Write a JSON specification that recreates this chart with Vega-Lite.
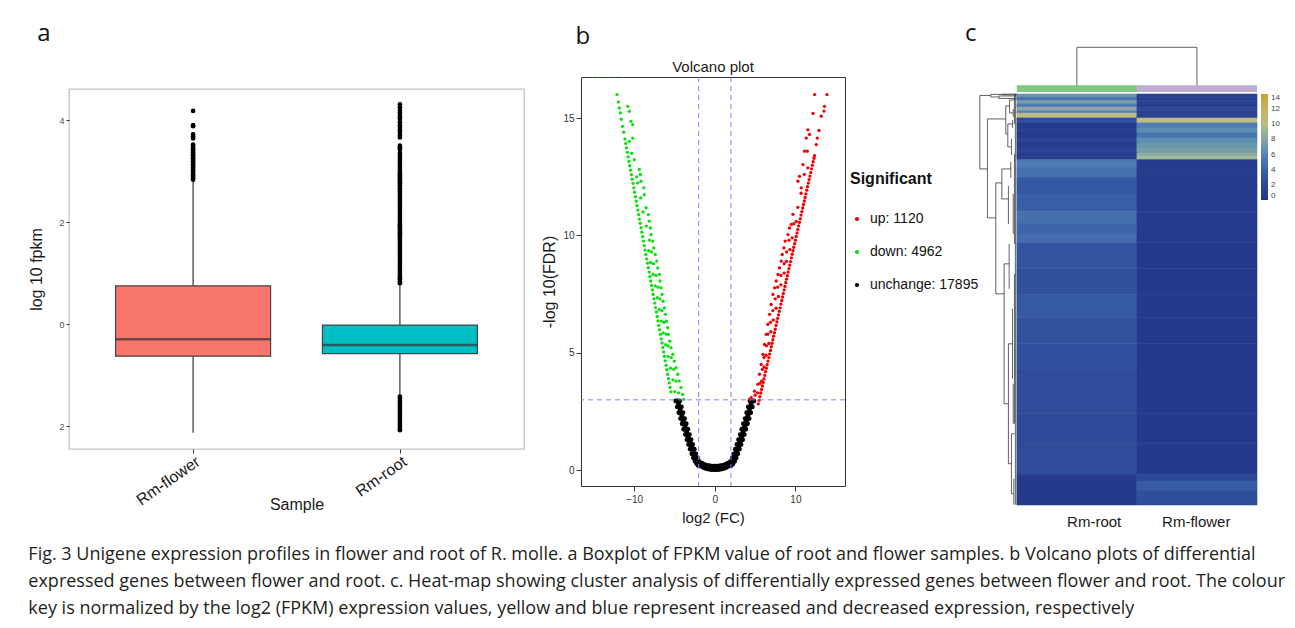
{
"$schema": "https://vega.github.io/schema/vega-lite/v6.json",
"background": "white",
"padding": {"left": 28, "top": 21, "right": 5, "bottom": 5},
"config": {
  "font": "Liberation Sans",
  "view": {"stroke": null},
  "axis": {"grid": false, "domain": false, "tickColor": "#333333", "labelColor": "#333333", "titleColor": "#1a1a1a", "titleFontWeight": "normal", "labelFont": "Liberation Sans", "titleFont": "Liberation Sans"},
  "legend": {"labelFont": "Liberation Sans", "titleFont": "Liberation Sans"},
  "title": {"font": "Open Sans", "fontWeight": "normal", "color": "#111111"}
},
"title": {
  "text": [
    "Fig. 3 Unigene expression profiles in flower and root of R. molle. a Boxplot of FPKM value of root and flower samples. b Volcano plots of differential",
    "expressed genes between flower and root. c. Heat-map showing cluster analysis of differentially expressed genes between flower and root. The colour",
    "key is normalized by the log2 (FPKM) expression values, yellow and blue represent increased and decreased expression, respectively"
  ],
  "orient": "bottom", "anchor": "start", "frame": "bounds",
  "font": "Open Sans", "fontSize": 18, "fontWeight": "normal", "color": "#231f20",
  "lineHeight": 27, "offset": 17, "baseline": "top"
},
"datasets": {
  "boxes": [
    {"s": "Rm-flower", "lo": -2.13, "q1": -0.63, "med": -0.30, "q3": 0.75, "hi": 2.80},
    {"s": "Rm-root", "lo": -1.39, "q1": -0.58, "med": -0.41, "q3": -0.02, "hi": 0.78}
  ],
  "outl": [
    {"s":"Rm-flower","v":4.18},{"s":"Rm-flower","v":3.90},{"s":"Rm-flower","v":3.88},{"s":"Rm-flower","v":3.72},{"s":"Rm-flower","v":3.68},{"s":"Rm-flower","v":3.64},
    {"s":"Rm-flower","v":3.52},{"s":"Rm-flower","v":3.49},{"s":"Rm-flower","v":3.46},{"s":"Rm-flower","v":3.43},{"s":"Rm-flower","v":3.40},{"s":"Rm-flower","v":3.37},{"s":"Rm-flower","v":3.34},{"s":"Rm-flower","v":3.31},{"s":"Rm-flower","v":3.28},{"s":"Rm-flower","v":3.25},{"s":"Rm-flower","v":3.22},{"s":"Rm-flower","v":3.19},{"s":"Rm-flower","v":3.16},{"s":"Rm-flower","v":3.13},{"s":"Rm-flower","v":3.10},{"s":"Rm-flower","v":3.07},{"s":"Rm-flower","v":3.04},{"s":"Rm-flower","v":3.01},{"s":"Rm-flower","v":2.98},{"s":"Rm-flower","v":2.95},{"s":"Rm-flower","v":2.92},{"s":"Rm-flower","v":2.89},{"s":"Rm-flower","v":2.86},{"s":"Rm-flower","v":2.83},
    {"s":"Rm-root","v":4.31},{"s":"Rm-root","v":4.25},{"s":"Rm-root","v":4.20},{"s":"Rm-root","v":4.15},{"s":"Rm-root","v":4.10},{"s":"Rm-root","v":4.05},{"s":"Rm-root","v":4.02},{"s":"Rm-root","v":3.96},{"s":"Rm-root","v":3.90},{"s":"Rm-root","v":3.85},{"s":"Rm-root","v":3.80},{"s":"Rm-root","v":3.75},{"s":"Rm-root","v":3.70},{"s":"Rm-root","v":3.66},{"s":"Rm-root","v":3.50},{"s":"Rm-root","v":3.47},{"s":"Rm-root","v":3.43},
    {"s":"Rm-root","v":3.36},{"s":"Rm-root","v":3.32},{"s":"Rm-root","v":3.28},{"s":"Rm-root","v":3.24},{"s":"Rm-root","v":3.20},{"s":"Rm-root","v":3.16},{"s":"Rm-root","v":3.12},{"s":"Rm-root","v":3.08},{"s":"Rm-root","v":3.04},{"s":"Rm-root","v":3.00},{"s":"Rm-root","v":2.96},{"s":"Rm-root","v":2.92},{"s":"Rm-root","v":2.88},{"s":"Rm-root","v":2.84},{"s":"Rm-root","v":2.80},{"s":"Rm-root","v":2.76},{"s":"Rm-root","v":2.72},{"s":"Rm-root","v":2.68},{"s":"Rm-root","v":2.64},{"s":"Rm-root","v":2.60},{"s":"Rm-root","v":2.56},{"s":"Rm-root","v":2.52},{"s":"Rm-root","v":2.48},{"s":"Rm-root","v":2.44},{"s":"Rm-root","v":2.40},{"s":"Rm-root","v":2.36},{"s":"Rm-root","v":2.32},{"s":"Rm-root","v":2.28},{"s":"Rm-root","v":2.24},{"s":"Rm-root","v":2.20},{"s":"Rm-root","v":2.16},{"s":"Rm-root","v":2.12},{"s":"Rm-root","v":2.08},{"s":"Rm-root","v":2.04},{"s":"Rm-root","v":2.00},{"s":"Rm-root","v":1.96},{"s":"Rm-root","v":1.92},{"s":"Rm-root","v":1.88},{"s":"Rm-root","v":1.84},{"s":"Rm-root","v":1.80},{"s":"Rm-root","v":1.76},{"s":"Rm-root","v":1.72},{"s":"Rm-root","v":1.68},{"s":"Rm-root","v":1.64},{"s":"Rm-root","v":1.60},{"s":"Rm-root","v":1.56},{"s":"Rm-root","v":1.52},{"s":"Rm-root","v":1.48},{"s":"Rm-root","v":1.44},{"s":"Rm-root","v":1.40},{"s":"Rm-root","v":1.36},{"s":"Rm-root","v":1.32},{"s":"Rm-root","v":1.28},{"s":"Rm-root","v":1.24},{"s":"Rm-root","v":1.20},{"s":"Rm-root","v":1.16},{"s":"Rm-root","v":1.12},{"s":"Rm-root","v":1.08},{"s":"Rm-root","v":1.04},{"s":"Rm-root","v":1.00},{"s":"Rm-root","v":0.96},{"s":"Rm-root","v":0.92},{"s":"Rm-root","v":0.88},{"s":"Rm-root","v":0.84},{"s":"Rm-root","v":0.80},
    {"s":"Rm-root","v":-1.42},{"s":"Rm-root","v":-1.46},{"s":"Rm-root","v":-1.50},{"s":"Rm-root","v":-1.54},{"s":"Rm-root","v":-1.58},{"s":"Rm-root","v":-1.62},{"s":"Rm-root","v":-1.66},{"s":"Rm-root","v":-1.70},{"s":"Rm-root","v":-1.74},{"s":"Rm-root","v":-1.78},{"s":"Rm-root","v":-1.82},{"s":"Rm-root","v":-1.86},{"s":"Rm-root","v":-1.90},{"s":"Rm-root","v":-1.94},{"s":"Rm-root","v":-1.98},{"s":"Rm-root","v":-2.02},{"s":"Rm-root","v":-2.06},{"s":"Rm-root","v":-2.08}
  ],
  "volc": [
    {"x":-4.6,"y":2.95,"g":"n"},{"x":-4.5,"y":2.82,"g":"n"},{"x":-4.4,"y":2.7,"g":"n"},{"x":-4.3,"y":2.57,"g":"n"},{"x":-4.2,"y":2.45,"g":"n"},{"x":-4.1,"y":2.32,"g":"n"},{"x":-4.0,"y":2.2,"g":"n"},{"x":-3.9,"y":2.09,"g":"n"},{"x":-3.8,"y":1.98,"g":"n"},{"x":-3.7,"y":1.86,"g":"n"},{"x":-3.6,"y":1.75,"g":"n"},{"x":-3.5,"y":1.63,"g":"n"},{"x":-3.4,"y":1.52,"g":"n"},{"x":-3.3,"y":1.41,"g":"n"},{"x":-3.2,"y":1.3,"g":"n"},{"x":-3.1,"y":1.2,"g":"n"},{"x":-3.0,"y":1.1,"g":"n"},{"x":-2.9,"y":1.0,"g":"n"},{"x":-2.8,"y":0.9,"g":"n"},{"x":-2.7,"y":0.8,"g":"n"},{"x":-2.6,"y":0.7,"g":"n"},{"x":-2.5,"y":0.61,"g":"n"},{"x":-2.4,"y":0.52,"g":"n"},{"x":-2.3,"y":0.45,"g":"n"},{"x":-2.2,"y":0.38,"g":"n"},{"x":-2.1,"y":0.33,"g":"n"},{"x":-2.0,"y":0.28,"g":"n"},{"x":-1.9,"y":0.24,"g":"n"},{"x":-1.8,"y":0.2,"g":"n"},
    {"x":-4.85,"y":2.95,"g":"n"},{"x":-4.65,"y":2.7,"g":"n"},{"x":-4.45,"y":2.45,"g":"n"},{"x":-4.25,"y":2.2,"g":"n"},{"x":-4.05,"y":1.98,"g":"n"},{"x":-3.85,"y":1.75,"g":"n"},{"x":-3.65,"y":1.52,"g":"n"},{"x":-3.45,"y":1.3,"g":"n"},{"x":-3.25,"y":1.1,"g":"n"},{"x":-3.05,"y":0.9,"g":"n"},{"x":-2.85,"y":0.7,"g":"n"},{"x":-2.65,"y":0.52,"g":"n"},{"x":-2.45,"y":0.38,"g":"n"},{"x":-2.25,"y":0.28,"g":"n"},{"x":-2.05,"y":0.2,"g":"n"},
    {"x":-4.35,"y":2.95,"g":"n"},{"x":-4.15,"y":2.7,"g":"n"},{"x":-3.95,"y":2.45,"g":"n"},{"x":-3.75,"y":2.2,"g":"n"},{"x":-3.55,"y":1.98,"g":"n"},{"x":-3.35,"y":1.75,"g":"n"},{"x":-3.15,"y":1.52,"g":"n"},{"x":-2.95,"y":1.3,"g":"n"},{"x":-2.75,"y":1.1,"g":"n"},{"x":-2.55,"y":0.9,"g":"n"},{"x":-2.35,"y":0.7,"g":"n"},{"x":-2.15,"y":0.52,"g":"n"},{"x":-1.95,"y":0.38,"g":"n"},{"x":-1.75,"y":0.28,"g":"n"},{"x":-1.55,"y":0.2,"g":"n"},
    {"x":4.6,"y":2.95,"g":"n"},{"x":4.5,"y":2.82,"g":"n"},{"x":4.4,"y":2.7,"g":"n"},{"x":4.3,"y":2.57,"g":"n"},{"x":4.2,"y":2.45,"g":"n"},{"x":4.1,"y":2.32,"g":"n"},{"x":4.0,"y":2.2,"g":"n"},{"x":3.9,"y":2.09,"g":"n"},{"x":3.8,"y":1.98,"g":"n"},{"x":3.7,"y":1.86,"g":"n"},{"x":3.6,"y":1.75,"g":"n"},{"x":3.5,"y":1.63,"g":"n"},{"x":3.4,"y":1.52,"g":"n"},{"x":3.3,"y":1.41,"g":"n"},{"x":3.2,"y":1.3,"g":"n"},{"x":3.1,"y":1.2,"g":"n"},{"x":3.0,"y":1.1,"g":"n"},{"x":2.9,"y":1.0,"g":"n"},{"x":2.8,"y":0.9,"g":"n"},{"x":2.7,"y":0.8,"g":"n"},{"x":2.6,"y":0.7,"g":"n"},{"x":2.5,"y":0.61,"g":"n"},{"x":2.4,"y":0.52,"g":"n"},{"x":2.3,"y":0.45,"g":"n"},{"x":2.2,"y":0.38,"g":"n"},{"x":2.1,"y":0.33,"g":"n"},{"x":2.0,"y":0.28,"g":"n"},{"x":1.9,"y":0.24,"g":"n"},{"x":1.8,"y":0.2,"g":"n"},
    {"x":4.85,"y":2.95,"g":"n"},{"x":4.65,"y":2.7,"g":"n"},{"x":4.45,"y":2.45,"g":"n"},{"x":4.25,"y":2.2,"g":"n"},{"x":4.05,"y":1.98,"g":"n"},{"x":3.85,"y":1.75,"g":"n"},{"x":3.65,"y":1.52,"g":"n"},{"x":3.45,"y":1.3,"g":"n"},{"x":3.25,"y":1.1,"g":"n"},{"x":3.05,"y":0.9,"g":"n"},{"x":2.85,"y":0.7,"g":"n"},{"x":2.65,"y":0.52,"g":"n"},{"x":2.45,"y":0.38,"g":"n"},{"x":2.25,"y":0.28,"g":"n"},{"x":2.05,"y":0.2,"g":"n"},
    {"x":4.35,"y":2.95,"g":"n"},{"x":4.15,"y":2.7,"g":"n"},{"x":3.95,"y":2.45,"g":"n"},{"x":3.75,"y":2.2,"g":"n"},{"x":3.55,"y":1.98,"g":"n"},{"x":3.35,"y":1.75,"g":"n"},{"x":3.15,"y":1.52,"g":"n"},{"x":2.95,"y":1.3,"g":"n"},{"x":2.75,"y":1.1,"g":"n"},{"x":2.55,"y":0.9,"g":"n"},{"x":2.35,"y":0.7,"g":"n"},{"x":2.15,"y":0.52,"g":"n"},{"x":1.95,"y":0.38,"g":"n"},{"x":1.75,"y":0.28,"g":"n"},{"x":1.55,"y":0.2,"g":"n"},
    {"x":-1.6,"y":0.16,"g":"n"},{"x":-1.4,"y":0.12,"g":"n"},{"x":-1.2,"y":0.09,"g":"n"},{"x":-1.0,"y":0.07,"g":"n"},{"x":-0.8,"y":0.05,"g":"n"},{"x":-0.6,"y":0.04,"g":"n"},{"x":-0.4,"y":0.03,"g":"n"},{"x":-0.2,"y":0.03,"g":"n"},{"x":0.0,"y":0.03,"g":"n"},{"x":0.2,"y":0.03,"g":"n"},{"x":0.4,"y":0.03,"g":"n"},{"x":0.6,"y":0.04,"g":"n"},{"x":0.8,"y":0.05,"g":"n"},{"x":1.0,"y":0.07,"g":"n"},{"x":1.2,"y":0.09,"g":"n"},{"x":1.4,"y":0.12,"g":"n"},{"x":1.6,"y":0.16,"g":"n"},
    {"x":-1.6,"y":0.3,"g":"n"},{"x":-1.4,"y":0.26,"g":"n"},{"x":-1.2,"y":0.23,"g":"n"},{"x":-1.0,"y":0.21,"g":"n"},{"x":-0.8,"y":0.19,"g":"n"},{"x":-0.6,"y":0.18,"g":"n"},{"x":-0.4,"y":0.17,"g":"n"},{"x":-0.2,"y":0.17,"g":"n"},{"x":0.0,"y":0.17,"g":"n"},{"x":0.2,"y":0.17,"g":"n"},{"x":0.4,"y":0.17,"g":"n"},{"x":0.6,"y":0.18,"g":"n"},{"x":0.8,"y":0.19,"g":"n"},{"x":1.0,"y":0.21,"g":"n"},{"x":1.2,"y":0.23,"g":"n"},{"x":1.4,"y":0.26,"g":"n"},{"x":1.6,"y":0.3,"g":"n"},
    {"x":-5.45,"y":3.34,"g":"d"},{"x":-5.55,"y":3.53,"g":"d"},{"x":-5.65,"y":3.72,"g":"d"},{"x":-5.75,"y":3.9,"g":"d"},{"x":-5.85,"y":4.09,"g":"d"},{"x":-5.95,"y":4.28,"g":"d"},{"x":-6.05,"y":4.47,"g":"d"},{"x":-6.15,"y":4.66,"g":"d"},{"x":-6.25,"y":4.85,"g":"d"},{"x":-6.35,"y":5.04,"g":"d"},{"x":-6.45,"y":5.23,"g":"d"},{"x":-6.55,"y":5.42,"g":"d"},{"x":-6.65,"y":5.6,"g":"d"},{"x":-6.75,"y":5.79,"g":"d"},{"x":-6.85,"y":5.98,"g":"d"},{"x":-6.95,"y":6.17,"g":"d"},{"x":-7.05,"y":6.36,"g":"d"},{"x":-7.15,"y":6.55,"g":"d"},{"x":-7.25,"y":6.74,"g":"d"},{"x":-7.35,"y":6.93,"g":"d"},{"x":-7.45,"y":7.12,"g":"d"},{"x":-7.55,"y":7.3,"g":"d"},{"x":-7.65,"y":7.49,"g":"d"},{"x":-7.75,"y":7.68,"g":"d"},{"x":-7.85,"y":7.87,"g":"d"},{"x":-7.95,"y":8.06,"g":"d"},{"x":-8.05,"y":8.25,"g":"d"},{"x":-8.15,"y":8.44,"g":"d"},{"x":-8.25,"y":8.63,"g":"d"},{"x":-8.35,"y":8.82,"g":"d"},{"x":-8.45,"y":9.0,"g":"d"},{"x":-8.55,"y":9.19,"g":"d"},{"x":-8.65,"y":9.38,"g":"d"},{"x":-8.75,"y":9.57,"g":"d"},{"x":-8.85,"y":9.76,"g":"d"},{"x":-8.95,"y":9.95,"g":"d"},{"x":-9.05,"y":10.14,"g":"d"},{"x":-9.15,"y":10.33,"g":"d"},{"x":-9.25,"y":10.52,"g":"d"},{"x":-9.35,"y":10.7,"g":"d"},{"x":-9.45,"y":10.89,"g":"d"},{"x":-9.55,"y":11.08,"g":"d"},{"x":-9.65,"y":11.27,"g":"d"},{"x":-9.75,"y":11.46,"g":"d"},{"x":-9.85,"y":11.65,"g":"d"},{"x":-9.95,"y":11.84,"g":"d"},{"x":-10.05,"y":12.03,"g":"d"},{"x":-10.15,"y":12.22,"g":"d"},{"x":-10.25,"y":12.4,"g":"d"},{"x":-10.35,"y":12.59,"g":"d"},{"x":-10.45,"y":12.78,"g":"d"},{"x":-10.55,"y":12.97,"g":"d"},{"x":-10.65,"y":13.16,"g":"d"},{"x":-10.75,"y":13.35,"g":"d"},{"x":-10.85,"y":13.54,"g":"d"},{"x":-10.95,"y":13.73,"g":"d"},{"x":-11.05,"y":13.92,"g":"d"},{"x":-11.15,"y":14.11,"g":"d"},{"x":-11.3,"y":14.4,"g":"d"},{"x":-11.45,"y":14.65,"g":"d"},{"x":-11.6,"y":14.95,"g":"d"},
    {"x":-12.14,"y":16.0,"g":"d"},{"x":-11.97,"y":15.69,"g":"d"},{"x":-11.85,"y":15.43,"g":"d"},{"x":-11.72,"y":15.22,"g":"d"},{"x":-10.81,"y":15.5,"g":"d"},{"x":-10.6,"y":15.29,"g":"d"},{"x":-10.4,"y":14.86,"g":"d"},{"x":-10.19,"y":14.72,"g":"d"},{"x":-10.6,"y":14.01,"g":"d"},{"x":-10.19,"y":14.15,"g":"d"},{"x":-9.99,"y":13.23,"g":"d"},{"x":-9.37,"y":12.81,"g":"d"},{"x":-9.24,"y":12.6,"g":"d"},{"x":-9.16,"y":12.31,"g":"d"},{"x":-9.57,"y":12.24,"g":"d"},{"x":-8.82,"y":12.03,"g":"d"},{"x":-8.75,"y":11.74,"g":"d"},{"x":-8.53,"y":11.18,"g":"d"},{"x":-8.24,"y":10.89,"g":"d"},{"x":-8.12,"y":10.61,"g":"d"},{"x":-8.0,"y":10.32,"g":"d"},{"x":-7.91,"y":10.04,"g":"d"},{"x":-7.7,"y":9.76,"g":"d"},{"x":-7.58,"y":9.47,"g":"d"},{"x":-7.38,"y":9.19,"g":"d"},{"x":-7.21,"y":8.91,"g":"d"},{"x":-7.08,"y":8.62,"g":"d"},{"x":-6.88,"y":8.34,"g":"d"},{"x":-6.8,"y":8.06,"g":"d"},{"x":-6.67,"y":7.77,"g":"d"},{"x":-6.55,"y":7.49,"g":"d"},{"x":-6.42,"y":7.2,"g":"d"},{"x":-6.26,"y":6.92,"g":"d"},{"x":-6.13,"y":6.64,"g":"d"},{"x":-6.01,"y":6.35,"g":"d"},{"x":-5.84,"y":6.07,"g":"d"},{"x":-5.76,"y":5.79,"g":"d"},{"x":-5.59,"y":5.5,"g":"d"},{"x":-5.43,"y":5.22,"g":"d"},{"x":-5.22,"y":4.94,"g":"d"},{"x":-5.02,"y":4.65,"g":"d"},{"x":-4.81,"y":4.37,"g":"d"},{"x":-4.6,"y":4.09,"g":"d"},{"x":-4.4,"y":3.8,"g":"d"},{"x":-4.19,"y":3.52,"g":"d"},{"x":-3.98,"y":3.23,"g":"d"},{"x":-3.85,"y":3.02,"g":"d"},
    {"x":-4.5,"y":3.3,"g":"d"},{"x":-4.95,"y":3.35,"g":"d"},{"x":-4.8,"y":3.8,"g":"d"},{"x":-5.2,"y":3.85,"g":"d"},{"x":-5.1,"y":4.3,"g":"d"},{"x":-5.5,"y":4.35,"g":"d"},{"x":-5.4,"y":4.8,"g":"d"},{"x":-5.8,"y":4.85,"g":"d"},{"x":-5.8,"y":5.3,"g":"d"},{"x":-6.1,"y":5.35,"g":"d"},{"x":-6.05,"y":5.8,"g":"d"},{"x":-6.4,"y":5.85,"g":"d"},{"x":-6.3,"y":6.3,"g":"d"},{"x":-6.65,"y":6.35,"g":"d"},{"x":-6.55,"y":6.8,"g":"d"},{"x":-6.9,"y":6.85,"g":"d"},{"x":-6.8,"y":7.3,"g":"d"},{"x":-7.15,"y":7.35,"g":"d"},{"x":-7.05,"y":7.8,"g":"d"},{"x":-7.4,"y":7.85,"g":"d"},{"x":-7.3,"y":8.3,"g":"d"},{"x":-7.65,"y":8.35,"g":"d"},{"x":-7.6,"y":8.8,"g":"d"},{"x":-7.95,"y":8.85,"g":"d"},{"x":-7.85,"y":9.3,"g":"d"},{"x":-8.2,"y":9.35,"g":"d"},{"x":-8.1,"y":9.8,"g":"d"},{"x":-8.5,"y":10.4,"g":"d"},{"x":-8.9,"y":11.0,"g":"d"},{"x":-9.2,"y":11.6,"g":"d"},{"x":-9.7,"y":12.5,"g":"d"},{"x":-10.3,"y":13.5,"g":"d"},
    {"x":-15.1,"y":16.8,"g":"d"},{"x":-14.5,"y":16.8,"g":"d"},{"x":-13.9,"y":16.8,"g":"d"},{"x":-13.0,"y":16.8,"g":"d"},{"x":-12.4,"y":16.8,"g":"d"},{"x":-11.3,"y":16.8,"g":"d"},
    {"x":5.4,"y":2.83,"g":"u"},{"x":5.5,"y":2.98,"g":"u"},{"x":5.6,"y":3.13,"g":"u"},{"x":5.7,"y":3.29,"g":"u"},{"x":5.8,"y":3.44,"g":"u"},{"x":5.9,"y":3.59,"g":"u"},{"x":6.0,"y":3.74,"g":"u"},{"x":6.1,"y":3.89,"g":"u"},{"x":6.2,"y":4.04,"g":"u"},{"x":6.3,"y":4.2,"g":"u"},{"x":6.4,"y":4.35,"g":"u"},{"x":6.5,"y":4.5,"g":"u"},{"x":6.6,"y":4.65,"g":"u"},{"x":6.7,"y":4.8,"g":"u"},{"x":6.8,"y":4.95,"g":"u"},{"x":6.9,"y":5.1,"g":"u"},{"x":7.0,"y":5.26,"g":"u"},{"x":7.1,"y":5.41,"g":"u"},{"x":7.2,"y":5.56,"g":"u"},{"x":7.3,"y":5.71,"g":"u"},{"x":7.4,"y":5.86,"g":"u"},{"x":7.5,"y":6.01,"g":"u"},{"x":7.6,"y":6.17,"g":"u"},{"x":7.7,"y":6.32,"g":"u"},{"x":7.8,"y":6.47,"g":"u"},{"x":7.9,"y":6.62,"g":"u"},{"x":8.0,"y":6.77,"g":"u"},{"x":8.1,"y":6.92,"g":"u"},{"x":8.2,"y":7.08,"g":"u"},{"x":8.3,"y":7.23,"g":"u"},{"x":8.4,"y":7.38,"g":"u"},{"x":8.5,"y":7.53,"g":"u"},{"x":8.6,"y":7.68,"g":"u"},{"x":8.7,"y":7.83,"g":"u"},{"x":8.8,"y":7.99,"g":"u"},{"x":8.9,"y":8.14,"g":"u"},{"x":9.0,"y":8.29,"g":"u"},{"x":9.1,"y":8.44,"g":"u"},{"x":9.2,"y":8.59,"g":"u"},{"x":9.3,"y":8.74,"g":"u"},{"x":9.4,"y":8.89,"g":"u"},{"x":9.5,"y":9.05,"g":"u"},{"x":9.6,"y":9.2,"g":"u"},{"x":9.7,"y":9.35,"g":"u"},{"x":9.8,"y":9.5,"g":"u"},{"x":9.9,"y":9.65,"g":"u"},{"x":10.0,"y":9.8,"g":"u"},{"x":10.1,"y":9.96,"g":"u"},{"x":10.2,"y":10.11,"g":"u"},{"x":10.3,"y":10.26,"g":"u"},{"x":10.4,"y":10.41,"g":"u"},{"x":10.5,"y":10.56,"g":"u"},{"x":10.6,"y":10.71,"g":"u"},{"x":10.7,"y":10.87,"g":"u"},{"x":10.8,"y":11.02,"g":"u"},{"x":10.9,"y":11.17,"g":"u"},{"x":11.0,"y":11.32,"g":"u"},{"x":11.1,"y":11.47,"g":"u"},{"x":11.2,"y":11.62,"g":"u"},{"x":11.3,"y":11.77,"g":"u"},{"x":11.4,"y":11.93,"g":"u"},{"x":11.5,"y":12.08,"g":"u"},{"x":11.6,"y":12.23,"g":"u"},{"x":11.7,"y":12.38,"g":"u"},{"x":11.8,"y":12.53,"g":"u"},{"x":11.9,"y":12.68,"g":"u"},{"x":12.0,"y":12.84,"g":"u"},{"x":12.1,"y":12.99,"g":"u"},{"x":12.2,"y":13.14,"g":"u"},{"x":12.3,"y":13.29,"g":"u"},{"x":12.37,"y":13.4,"g":"u"},
    {"x":12.17,"y":15.2,"g":"u"},{"x":12.38,"y":16.0,"g":"u"},{"x":13.2,"y":15.08,"g":"u"},{"x":13.61,"y":15.5,"g":"u"},{"x":13.91,"y":16.0,"g":"u"},{"x":13.54,"y":15.3,"g":"u"},{"x":12.92,"y":14.47,"g":"u"},{"x":12.71,"y":14.15,"g":"u"},{"x":12.58,"y":13.87,"g":"u"},{"x":11.55,"y":14.5,"g":"u"},{"x":11.34,"y":14.15,"g":"u"},{"x":11.75,"y":14.3,"g":"u"},{"x":11.47,"y":13.59,"g":"u"},{"x":11.13,"y":13.59,"g":"u"},{"x":10.93,"y":13.02,"g":"u"},{"x":11.55,"y":12.88,"g":"u"},{"x":10.51,"y":12.52,"g":"u"},{"x":10.31,"y":12.31,"g":"u"},{"x":10.72,"y":12.03,"g":"u"},{"x":9.69,"y":10.9,"g":"u"},{"x":9.48,"y":10.47,"g":"u"},{"x":9.27,"y":10.32,"g":"u"},{"x":9.07,"y":10.04,"g":"u"},{"x":8.73,"y":9.76,"g":"u"},{"x":8.57,"y":9.47,"g":"u"},{"x":8.36,"y":9.19,"g":"u"},{"x":8.24,"y":8.91,"g":"u"},{"x":8.02,"y":8.62,"g":"u"},{"x":7.83,"y":8.34,"g":"u"},{"x":7.61,"y":8.06,"g":"u"},{"x":7.41,"y":7.77,"g":"u"},{"x":7.2,"y":7.49,"g":"u"},{"x":6.99,"y":7.06,"g":"u"},{"x":6.79,"y":6.64,"g":"u"},{"x":6.58,"y":6.21,"g":"u"},{"x":6.37,"y":5.79,"g":"u"},{"x":6.16,"y":5.36,"g":"u"},{"x":5.96,"y":4.94,"g":"u"},{"x":5.75,"y":4.51,"g":"u"},{"x":5.54,"y":4.09,"g":"u"},{"x":5.34,"y":3.66,"g":"u"},{"x":4.92,"y":3.37,"g":"u"},{"x":4.51,"y":3.09,"g":"u"},{"x":4.3,"y":3.02,"g":"u"},
    {"x":5.0,"y":3.2,"g":"u"},{"x":5.3,"y":3.3,"g":"u"},{"x":5.6,"y":3.7,"g":"u"},{"x":5.8,"y":3.8,"g":"u"},{"x":5.9,"y":4.3,"g":"u"},{"x":6.1,"y":4.4,"g":"u"},{"x":6.1,"y":4.8,"g":"u"},{"x":6.35,"y":4.9,"g":"u"},{"x":6.4,"y":5.3,"g":"u"},{"x":6.7,"y":5.4,"g":"u"},{"x":6.6,"y":5.8,"g":"u"},{"x":6.95,"y":5.9,"g":"u"},{"x":6.9,"y":6.3,"g":"u"},{"x":7.25,"y":6.4,"g":"u"},{"x":7.2,"y":6.8,"g":"u"},{"x":7.6,"y":6.9,"g":"u"},{"x":7.5,"y":7.3,"g":"u"},{"x":7.9,"y":7.4,"g":"u"},{"x":7.8,"y":7.8,"g":"u"},{"x":8.2,"y":7.9,"g":"u"},{"x":8.2,"y":8.3,"g":"u"},{"x":8.6,"y":8.4,"g":"u"},{"x":8.6,"y":8.8,"g":"u"},{"x":8.9,"y":8.9,"g":"u"},{"x":8.9,"y":9.3,"g":"u"},{"x":9.3,"y":9.4,"g":"u"},{"x":9.2,"y":9.8,"g":"u"},{"x":9.6,"y":9.9,"g":"u"},{"x":9.8,"y":10.5,"g":"u"},{"x":10.1,"y":10.6,"g":"u"},{"x":10.3,"y":11.2,"g":"u"},{"x":10.7,"y":11.8,"g":"u"},{"x":11.1,"y":12.6,"g":"u"},
    {"x":14.4,"y":16.8,"g":"u"},{"x":14.7,"y":16.8,"g":"u"}
  ],
  "heat": [
    {"x0":0,"x1":1,"y0":0,"y1":3.3,"v":7},{"x0":1,"x1":2,"y0":0,"y1":3.3,"v":1.5},
    {"x0":0,"x1":1,"y0":3.3,"y1":6.7,"v":5},{"x0":1,"x1":2,"y0":3.3,"y1":6.7,"v":0.8},
    {"x0":0,"x1":1,"y0":6.7,"y1":10,"v":7.5},{"x0":1,"x1":2,"y0":6.7,"y1":10,"v":1.5},
    {"x0":0,"x1":1,"y0":10,"y1":13.3,"v":5.5},{"x0":1,"x1":2,"y0":10,"y1":13.3,"v":0.8},
    {"x0":0,"x1":1,"y0":13.3,"y1":16.7,"v":8},{"x0":1,"x1":2,"y0":13.3,"y1":16.7,"v":2},
    {"x0":0,"x1":1,"y0":16.7,"y1":19.3,"v":6},{"x0":1,"x1":2,"y0":16.7,"y1":19.3,"v":1},
    {"x0":0,"x1":1,"y0":19.3,"y1":24,"v":10},{"x0":1,"x1":2,"y0":19.3,"y1":24,"v":1},
    {"x0":0,"x1":1,"y0":24,"y1":26,"v":2},{"x0":1,"x1":2,"y0":24,"y1":26,"v":10.5},
    {"x0":0,"x1":1,"y0":26,"y1":29,"v":3},{"x0":1,"x1":2,"y0":26,"y1":29,"v":10},
    {"x0":0,"x1":1,"y0":29,"y1":34,"v":0.5},{"x0":1,"x1":2,"y0":29,"y1":34,"v":5.5},
    {"x0":0,"x1":1,"y0":34,"y1":39,"v":1},{"x0":1,"x1":2,"y0":34,"y1":39,"v":6.5},
    {"x0":0,"x1":1,"y0":39,"y1":44,"v":0.5},{"x0":1,"x1":2,"y0":39,"y1":44,"v":5},
    {"x0":0,"x1":1,"y0":44,"y1":49,"v":1.5},{"x0":1,"x1":2,"y0":44,"y1":49,"v":6.5},
    {"x0":0,"x1":1,"y0":49,"y1":54,"v":0.5},{"x0":1,"x1":2,"y0":49,"y1":54,"v":7},
    {"x0":0,"x1":1,"y0":54,"y1":59,"v":1.5},{"x0":1,"x1":2,"y0":54,"y1":59,"v":7.5},
    {"x0":0,"x1":1,"y0":59,"y1":62.3,"v":0.8},{"x0":1,"x1":2,"y0":59,"y1":62.3,"v":8.5},
    {"x0":0,"x1":1,"y0":62.3,"y1":65.7,"v":0.5},{"x0":1,"x1":2,"y0":62.3,"y1":65.7,"v":9.5},
    {"x0":0,"x1":1,"y0":65.7,"y1":74,"v":5.5},{"x0":1,"x1":2,"y0":65.7,"y1":74,"v":0.5},
    {"x0":0,"x1":1,"y0":74,"y1":84,"v":4.8},{"x0":1,"x1":2,"y0":74,"y1":84,"v":0.8},
    {"x0":0,"x1":1,"y0":84,"y1":100,"v":3.3},{"x0":1,"x1":2,"y0":84,"y1":100,"v":0.5},
    {"x0":0,"x1":1,"y0":100,"y1":117.3,"v":3.8},{"x0":1,"x1":2,"y0":100,"y1":117.3,"v":0.5},
    {"x0":0,"x1":1,"y0":117.3,"y1":130,"v":4.8},{"x0":1,"x1":2,"y0":117.3,"y1":130,"v":0.5},
    {"x0":0,"x1":1,"y0":130,"y1":140,"v":4.2},{"x0":1,"x1":2,"y0":130,"y1":140,"v":0.6},
    {"x0":0,"x1":1,"y0":140,"y1":149,"v":4.6},{"x0":1,"x1":2,"y0":140,"y1":149,"v":0.5},
    {"x0":0,"x1":1,"y0":149,"y1":175,"v":3.0},{"x0":1,"x1":2,"y0":149,"y1":175,"v":0.4},
    {"x0":0,"x1":1,"y0":175,"y1":200.7,"v":2.7},{"x0":1,"x1":2,"y0":175,"y1":200.7,"v":0.4},
    {"x0":0,"x1":1,"y0":200.7,"y1":224,"v":3.4},{"x0":1,"x1":2,"y0":200.7,"y1":224,"v":0.4},
    {"x0":0,"x1":1,"y0":224,"y1":250,"v":2.8},{"x0":1,"x1":2,"y0":224,"y1":250,"v":0.4},
    {"x0":0,"x1":1,"y0":250,"y1":277.3,"v":2.6},{"x0":1,"x1":2,"y0":250,"y1":277.3,"v":0.4},
    {"x0":0,"x1":1,"y0":277.3,"y1":320,"v":2.3},{"x0":1,"x1":2,"y0":277.3,"y1":320,"v":0.4},
    {"x0":0,"x1":1,"y0":320,"y1":350,"v":2.1},{"x0":1,"x1":2,"y0":320,"y1":350,"v":0.4},
    {"x0":0,"x1":1,"y0":350,"y1":380.7,"v":2.3},{"x0":1,"x1":2,"y0":350,"y1":380.7,"v":0.4},
    {"x0":0,"x1":1,"y0":380.7,"y1":387.3,"v":0.3},{"x0":1,"x1":2,"y0":380.7,"y1":387.3,"v":2},
    {"x0":0,"x1":1,"y0":387.3,"y1":397.3,"v":0.3},{"x0":1,"x1":2,"y0":387.3,"y1":397.3,"v":3.5},
    {"x0":0,"x1":1,"y0":397.3,"y1":411.3,"v":0.4},{"x0":1,"x1":2,"y0":397.3,"y1":411.3,"v":2.5}
  ],
  "annot": [
    {"x0":0,"x1":1,"y0":-8.7,"y1":-2,"smp":"Rm-root"},
    {"x0":1,"x1":2,"y0":-8.7,"y1":-2,"smp":"Rm-flower"}
  ],
  "dendro": [
    {"xa":0.5,"xb":1.5,"ya":-46.7,"yb":-46.7},{"xa":0.5,"xb":0.5,"ya":-46.7,"yb":-8.7},{"xa":1.5,"xb":1.5,"ya":-46.7,"yb":-8.7},
    {"xa":-0.308,"xb":-0.308,"ya":1.5,"yb":75},{"xa":-0.308,"xb":-0.217,"ya":1.5,"yb":1.5},{"xa":-0.308,"xb":-0.245,"ya":75,"yb":75},
    {"xa":-0.217,"xb":-0.217,"ya":0.4,"yb":3},{"xa":-0.217,"xb":-0.12,"ya":0.4,"yb":0.4},{"xa":-0.12,"xb":-0.12,"ya":0.2,"yb":0.8},{"xa":-0.12,"xb":0,"ya":0.2,"yb":0.2},{"xa":-0.12,"xb":0,"ya":0.8,"yb":0.8},{"xa":-0.217,"xb":-0.15,"ya":3,"yb":3},{"xa":-0.15,"xb":-0.15,"ya":2,"yb":4.5},{"xa":-0.15,"xb":0,"ya":2,"yb":2},{"xa":-0.15,"xb":0,"ya":4.5,"yb":4.5},
    {"xa":-0.245,"xb":-0.245,"ya":25,"yb":124},{"xa":-0.245,"xb":-0.092,"ya":25,"yb":25},{"xa":-0.245,"xb":-0.175,"ya":124,"yb":124},
    {"xa":-0.092,"xb":-0.092,"ya":12,"yb":40},{"xa":-0.092,"xb":-0.06,"ya":12,"yb":12},{"xa":-0.06,"xb":-0.06,"ya":6,"yb":19},{"xa":-0.06,"xb":-0.02,"ya":6,"yb":6},{"xa":-0.06,"xb":-0.03,"ya":19,"yb":19},{"xa":-0.03,"xb":-0.03,"ya":15,"yb":23},{"xa":-0.092,"xb":-0.075,"ya":40,"yb":40},{"xa":-0.075,"xb":-0.075,"ya":30,"yb":53},{"xa":-0.075,"xb":-0.035,"ya":30,"yb":30},{"xa":-0.075,"xb":-0.045,"ya":53,"yb":53},{"xa":-0.045,"xb":-0.045,"ya":45,"yb":61},{"xa":-0.035,"xb":-0.035,"ya":26,"yb":34},
    {"xa":-0.175,"xb":-0.175,"ya":89,"yb":200},{"xa":-0.175,"xb":-0.125,"ya":89,"yb":89},{"xa":-0.125,"xb":-0.125,"ya":75,"yb":105},{"xa":-0.125,"xb":-0.05,"ya":75,"yb":75},{"xa":-0.05,"xb":-0.05,"ya":68,"yb":84},{"xa":-0.125,"xb":-0.07,"ya":105,"yb":105},{"xa":-0.07,"xb":-0.07,"ya":92,"yb":130},{"xa":-0.175,"xb":-0.106,"ya":200,"yb":200},
    {"xa":-0.106,"xb":-0.106,"ya":170,"yb":310},{"xa":-0.106,"xb":-0.064,"ya":170,"yb":170},{"xa":-0.064,"xb":-0.064,"ya":150,"yb":195},{"xa":-0.106,"xb":-0.07,"ya":310,"yb":310},{"xa":-0.07,"xb":-0.07,"ya":250,"yb":370},{"xa":-0.07,"xb":-0.036,"ya":250,"yb":250},{"xa":-0.036,"xb":-0.036,"ya":215,"yb":285},{"xa":-0.07,"xb":-0.045,"ya":370,"yb":370},{"xa":-0.045,"xb":-0.045,"ya":340,"yb":400},{"xa":-0.045,"xb":-0.02,"ya":340,"yb":340},{"xa":-0.045,"xb":-0.025,"ya":400,"yb":400},{"xa":-0.025,"xb":-0.025,"ya":385,"yb":411},
    {"xa":-0.012,"xb":-0.012,"ya":0,"yb":411},{"xa":-0.02,"xb":-0.02,"ya":0,"yb":30},{"xa":-0.02,"xb":-0.02,"ya":60,"yb":150},{"xa":-0.02,"xb":-0.02,"ya":180,"yb":330},{"xa":-0.03,"xb":-0.03,"ya":100,"yb":140},{"xa":-0.03,"xb":-0.03,"ya":290,"yb":330}
  ]
},
"spacing": 16,
"hconcat": [
  {
    "title": {"text": "a", "anchor": "start", "frame": "bounds", "dx": 9, "fontSize": 24, "offset": -18, "baseline": "alphabetic"},
    "spacing": 0,
    "vconcat": [
      {"width": 10, "height": 41, "data": {"values": []}, "mark": {"type": "point"}, "encoding": {}},
      {
        "width": 455, "height": 360,
        "view": {"stroke": "#c4c4c4", "strokeWidth": 1.3},
        "layer": [
          {
            "data": {"name": "boxes"},
            "mark": {"type": "rule", "color": "#333333", "strokeWidth": 1.2},
            "encoding": {
              "x": {"field": "s", "type": "nominal", "title": "Sample", "scale": {"type": "point", "padding": 0.6, "domain": ["Rm-flower", "Rm-root"]},
                    "axis": {"labelAngle": -35, "labelAlign": "right", "labelBaseline": "top", "labelFontSize": 16, "labelColor": "#1a1a1a", "tickSize": 4, "labelPadding": 0, "titleFontSize": 16, "titlePadding": -11}},
              "y": {"field": "lo", "type": "quantitative", "title": "log 10 fpkm", "scale": {"domain": [-2.45, 4.61], "nice": false, "zero": false},
                    "axis": {"values": [-2, 0, 2, 4], "labelExpr": "'' + abs(datum.value)", "tickSize": 3, "labelFontSize": 9, "labelColor": "#4d4d4d", "labelPadding": 2, "titleFontSize": 16, "titlePadding": 14}},
              "y2": {"field": "hi"}
            }
          },
          {
            "data": {"name": "boxes"},
            "mark": {"type": "bar", "size": 155, "stroke": "#444444", "strokeWidth": 1.2},
            "encoding": {
              "x": {"field": "s", "type": "nominal", "title": "Sample", "scale": {"type": "point", "padding": 0.6, "domain": ["Rm-flower", "Rm-root"]}},
              "y": {"field": "q1", "type": "quantitative", "title": "log 10 fpkm", "scale": {"domain": [-2.45, 4.61], "nice": false, "zero": false}},
              "y2": {"field": "q3"},
              "color": {"field": "s", "type": "nominal", "scale": {"domain": ["Rm-flower", "Rm-root"], "range": ["#F8766D", "#00BFC4"]}, "legend": null}
            }
          },
          {
            "data": {"name": "boxes"},
            "mark": {"type": "tick", "size": 155, "thickness": 2.5, "color": "#333333", "orient": "horizontal"},
            "encoding": {
              "x": {"field": "s", "type": "nominal", "title": "Sample", "scale": {"type": "point", "padding": 0.6, "domain": ["Rm-flower", "Rm-root"]}},
              "y": {"field": "med", "type": "quantitative", "title": "log 10 fpkm", "scale": {"domain": [-2.45, 4.61], "nice": false, "zero": false}}
            }
          },
          {
            "data": {"name": "outl"},
            "mark": {"type": "circle", "size": 22, "color": "#000000", "opacity": 1},
            "encoding": {
              "x": {"field": "s", "type": "nominal", "title": "Sample", "scale": {"type": "point", "padding": 0.6, "domain": ["Rm-flower", "Rm-root"]}},
              "y": {"field": "v", "type": "quantitative", "title": "log 10 fpkm", "scale": {"domain": [-2.45, 4.61], "nice": false, "zero": false}}
            }
          }
        ]
      }
    ]
  },
  {
    "spacing": -29,
    "hconcat": [
      {
        "title": {"text": "b", "anchor": "start", "frame": "bounds", "dx": 34, "fontSize": 24, "offset": -21, "baseline": "alphabetic"},
        "spacing": 0,
        "vconcat": [
          {"width": 10, "height": 12, "data": {"values": []}, "mark": {"type": "point"}, "encoding": {}},
          {
            "title": {"text": "Volcano plot", "font": "Liberation Sans", "fontSize": 15, "anchor": "middle", "frame": "group", "offset": -10, "baseline": "alphabetic", "color": "#1a1a1a"},
            "width": 264, "height": 409,
            "view": {"stroke": "#333333", "strokeWidth": 1},
            "layer": [
              {
                "data": {"name": "volc"},
                "transform": [{"filter": "datum.g == 'n'"}],
                "mark": {"type": "circle", "size": 24, "opacity": 1, "clip": true},
                "encoding": {
                  "x": {"field": "x", "type": "quantitative", "title": "log2 (FC)", "scale": {"domain": [-16.6, 16.15], "nice": false, "zero": false},
                        "axis": {"values": [-10, 0, 10], "tickSize": 5, "labelFontSize": 10, "labelColor": "#333333", "labelPadding": 3, "titleFontSize": 15, "titlePadding": 6}},
                  "y": {"field": "y", "type": "quantitative", "title": "-log 10(FDR)", "scale": {"domain": [-0.67, 16.75], "nice": false, "zero": false},
                        "axis": {"values": [0, 5, 10, 15], "tickSize": 5, "labelFontSize": 10, "labelColor": "#333333", "labelPadding": 2, "titleFontSize": 16, "titlePadding": 5}},
                  "color": {"field": "g", "type": "nominal", "scale": {"domain": ["u", "d", "n"], "range": ["#f00000", "#12dd12", "#000000"]},
                            "legend": {"orient": "none", "legendX": 269, "legendY": 124, "title": "Significant", "titleFontSize": 16, "titleFontWeight": "bold", "titleColor": "#111111", "labelFontSize": 14, "labelColor": "#111111", "symbolType": "circle", "symbolSize": 18, "symbolOpacity": 1, "rowPadding": 19, "titlePadding": 25, "padding": 0, "labelOffset": 6,
                                       "labelExpr": "datum.value == 'u' ? 'up: 1120' : datum.value == 'd' ? 'down: 4962' : 'unchange: 17895'"}}
                }
              },
              {
                "data": {"name": "volc"},
                "transform": [{"filter": "datum.g != 'n'"}],
                "mark": {"type": "circle", "size": 11, "opacity": 1, "clip": true},
                "encoding": {
                  "x": {"field": "x", "type": "quantitative", "title": "log2 (FC)", "scale": {"domain": [-16.6, 16.15], "nice": false, "zero": false}},
                  "y": {"field": "y", "type": "quantitative", "title": "-log 10(FDR)", "scale": {"domain": [-0.67, 16.75], "nice": false, "zero": false}},
                  "color": {"field": "g", "type": "nominal", "scale": {"domain": ["u", "d", "n"], "range": ["#f00000", "#12dd12", "#000000"]}}
                }
              },
              {
                "data": {"values": [{"xi": -2}, {"xi": 2}]},
                "mark": {"type": "rule", "color": "#7f7fff", "strokeDash": [5, 4], "strokeWidth": 1},
                "encoding": {"x": {"field": "xi", "type": "quantitative", "title": "log2 (FC)"}}
              },
              {
                "data": {"values": [{"yi": 3}]},
                "mark": {"type": "rule", "color": "#7f7fff", "strokeDash": [5, 4], "strokeWidth": 1},
                "encoding": {"y": {"field": "yi", "type": "quantitative", "title": "-log 10(FDR)"}}
              }
            ]
          }
        ]
      },
      {
        "title": {"text": "c", "anchor": "start", "frame": "group", "dx": -14, "fontSize": 24, "offset": -18, "baseline": "alphabetic"},
        "width": 278, "height": 458,
        "layer": [
          {
            "data": {"name": "heat"},
            "mark": {"type": "rect", "strokeWidth": 0.6},
            "encoding": {
              "x": {"field": "x0", "type": "quantitative", "title": null, "scale": {"domain": [-0.315, 2.0], "nice": false, "zero": false},
                    "axis": {"values": [0.64, 1.49], "labelExpr": "datum.value < 1 ? 'Rm-root' : 'Rm-flower'", "ticks": false, "domain": false, "labelFontSize": 15, "labelColor": "#1a1a1a", "labelPadding": 9}},
              "x2": {"field": "x1"},
              "y": {"field": "y0", "type": "quantitative", "title": null, "scale": {"domain": [-47, 411.3], "reverse": true, "nice": false, "zero": false}, "axis": null},
              "y2": {"field": "y1"},
              "color": {"field": "v", "type": "quantitative",
                        "scale": {"domain": [0, 2, 4, 6, 8, 10, 12, 14], "range": ["#24378a", "#2c4896", "#3b61a8", "#5a83b7", "#8fa4a4", "#bcbc84", "#c8b264", "#c9a12f"]},
                        "legend": {"orient": "none", "legendX": 282, "legendY": 47, "direction": "vertical", "gradientLength": 106, "gradientThickness": 7, "values": [0, 2, 4, 6, 8, 10, 12, 14], "labelFontSize": 8, "labelColor": "#444444", "title": null, "padding": 0, "labelOffset": 3, "labelOverlap": false, "gradientStrokeWidth": 0}},
              "stroke": {"field": "v", "type": "quantitative",
                        "scale": {"domain": [0, 2, 4, 6, 8, 10, 12, 14], "range": ["#24378a", "#2c4896", "#3b61a8", "#5a83b7", "#8fa4a4", "#bcbc84", "#c8b264", "#c9a12f"]},
                        "legend": null}
            }
          },
          {
            "data": {"name": "annot"},
            "mark": {"type": "rect"},
            "encoding": {
              "x": {"field": "x0", "type": "quantitative", "title": null},
              "x2": {"field": "x1"},
              "y": {"field": "y0", "type": "quantitative", "title": null},
              "y2": {"field": "y1"},
              "fill": {"field": "smp", "type": "nominal", "scale": {"domain": ["Rm-root", "Rm-flower"], "range": ["#7fc97f", "#beaed4"]}, "legend": null}
            }
          },
          {
            "data": {"name": "dendro"},
            "mark": {"type": "rule", "color": "#3a3a3a", "strokeWidth": 0.8},
            "encoding": {
              "x": {"field": "xa", "type": "quantitative", "title": null},
              "x2": {"field": "xb"},
              "y": {"field": "ya", "type": "quantitative", "title": null},
              "y2": {"field": "yb"}
            }
          }
        ]
      }
    ]
  }
]
}
